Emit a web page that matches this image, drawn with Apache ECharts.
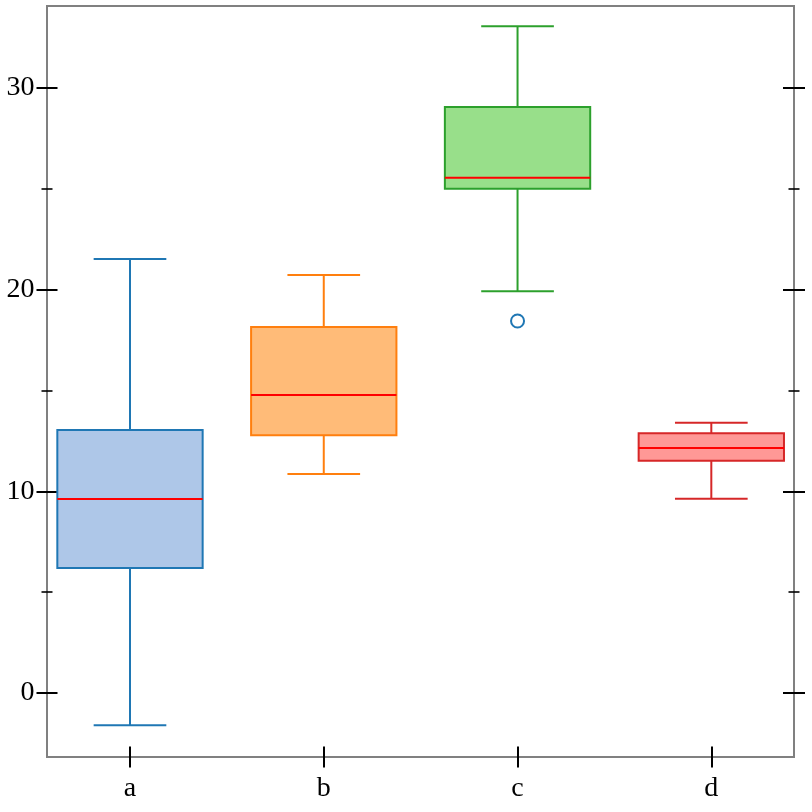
<!DOCTYPE html>
<html>
<head>
<meta charset="utf-8">
<script src="https://cdn.jsdelivr.net/npm/echarts@6/dist/echarts.min.js"></script>
<style>
  html, body { margin: 0; padding: 0; background: #fff; }
  #chart { width: 812px; height: 812px; }
</style>
</head>
<body>
<div id="chart"></div>
<script>
// categories and box statistics
const categories = ['a', 'b', 'c', 'd'];
const lows    = [-1.59, 10.86, 19.92, 9.63];
const q1s     = [6.20, 12.79, 25.01, 11.52];
const medians = [9.62, 14.78, 25.55, 12.15];
const q3s     = [13.04, 18.15, 29.06, 12.88];
const highs   = [21.52, 20.73, 33.07, 13.40];
const outliers = [[2, 18.45]]; // [category index, value]

const majorTicks = [0, 10, 20, 30];
const minorTicks = [5, 15, 25];

const fills   = ['#aec7e8', '#ffbb78', '#98df8a', '#ff9896'];
const strokes = ['#1f77b4', '#ff7f0e', '#2ca02c', '#d62728'];

const Y_MIN = -3.17, Y_MAX = 34.07;
const FONT = 'Liberation Serif';

const boxData = categories.map((c, i) => [i, lows[i], q1s[i], medians[i], q3s[i], highs[i]]);

const chart = echarts.init(document.getElementById('chart'));

function renderBox(params, api) {
  const i = api.value(0);
  const band = api.size([1, 0])[0];
  const half = band * 0.375;
  const cap = half / 2;
  const pLow = api.coord([i, api.value(1)]);
  const pQ1 = api.coord([i, api.value(2)]);
  const pMed = api.coord([i, api.value(3)]);
  const pQ3 = api.coord([i, api.value(4)]);
  const pHigh = api.coord([i, api.value(5)]);
  const x = pQ1[0];
  const stroke = strokes[i];
  const lineStyle = { stroke: stroke, lineWidth: 2, fill: null };
  return {
    type: 'group',
    children: [
      { type: 'line', shape: { x1: x, y1: pLow[1], x2: x, y2: pQ1[1] }, style: lineStyle },
      { type: 'line', shape: { x1: x, y1: pQ3[1], x2: x, y2: pHigh[1] }, style: lineStyle },
      { type: 'line', shape: { x1: x - cap, y1: pLow[1], x2: x + cap, y2: pLow[1] }, style: lineStyle },
      { type: 'line', shape: { x1: x - cap, y1: pHigh[1], x2: x + cap, y2: pHigh[1] }, style: lineStyle },
      {
        type: 'rect',
        shape: { x: x - half, y: pQ3[1], width: half * 2, height: pQ1[1] - pQ3[1] },
        style: { fill: fills[i], stroke: stroke, lineWidth: 2 }
      },
      { type: 'line', shape: { x1: x - half, y1: pMed[1], x2: x + half, y2: pMed[1] }, style: { stroke: '#ff0000', lineWidth: 2 } }
    ]
  };
}

const tickAxis = (position, offset, values, length, width, showLabel) => ({
  type: 'value',
  gridIndex: 0,
  position: position,
  offset: offset,
  min: Y_MIN,
  max: Y_MAX,
  axisLine: { show: false },
  splitLine: { show: false },
  axisTick: { show: true, customValues: values, length: length, lineStyle: { color: '#000', width: width } },
  axisLabel: showLabel
    ? { show: true, customValues: values, margin: 23, fontFamily: FONT, fontSize: 28, color: '#000' }
    : { show: false }
});

const option = {
  animation: false,
  backgroundColor: '#fff',
  grid: [
    { left: 47, right: 18, top: 6, bottom: 55, show: true, borderColor: '#808080', borderWidth: 2, backgroundColor: 'transparent' },
    { left: 33.1, right: 3.8, top: 6, bottom: 55 }
  ],
  xAxis: [
    { type: 'value', gridIndex: 0, show: false, min: 0, max: 1 },
    {
      type: 'category',
      gridIndex: 1,
      data: categories,
      position: 'bottom',
      offset: -10.5,
      axisLine: { show: false, onZero: false },
      axisTick: { show: true, alignWithLabel: true, length: 21, lineStyle: { color: '#000', width: 2 } },
      axisLabel: { margin: 28, fontFamily: FONT, fontSize: 28, color: '#000' },
      splitLine: { show: false }
    }
  ],
  yAxis: [
    tickAxis('left', -10.5, majorTicks, 21, 2, true),
    tickAxis('left', -5.5, minorTicks, 11, 1.6, false),
    tickAxis('right', -11, majorTicks, 22, 2, false),
    tickAxis('right', -5.5, minorTicks, 11, 1.6, false),
    { type: 'value', gridIndex: 1, show: false, min: Y_MIN, max: Y_MAX }
  ],
  series: [
    {
      type: 'custom',
      xAxisIndex: 1,
      yAxisIndex: 4,
      renderItem: renderBox,
      encode: { x: 0, y: [1, 2, 3, 4, 5] },
      data: boxData,
      clip: false
    },
    {
      type: 'scatter',
      xAxisIndex: 1,
      yAxisIndex: 4,
      symbol: 'circle',
      symbolSize: 13,
      itemStyle: { color: '#fff', borderColor: '#1f77b4', borderWidth: 2, opacity: 1 },
      data: outliers
    }
  ]
};

chart.setOption(option);
</script>
</body>
</html>
